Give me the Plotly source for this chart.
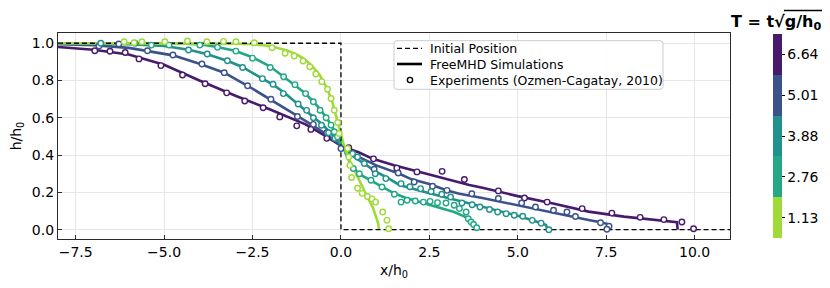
import plotly.graph_objects as go

# ---------------- data ----------------
T_labels = ["1.13", "2.76", "3.88", "5.01", "6.64"]
T_colors = ["#a0da39", "#22a884", "#21918c", "#3b528b", "#481a6c"]

init_x = [-8, 0, 0, 11]
init_y = [1, 1, 0, 0]

# simulations (FreeMHD)
sim_x_113 = [-8, -4, -3, -2.5, -2, -1.5, -1.2, -1.0, -0.8, -0.6, -0.4, -0.25, -0.1, 0, 0.1, 0.25, 0.5, 0.75, 0.9, 1.0, 1.05, 1.08]
sim_y_113 = [1.0, 1.0, 0.998, 0.995, 0.985, 0.96, 0.935, 0.91, 0.875, 0.83, 0.76, 0.69, 0.58, 0.5, 0.44, 0.37, 0.27, 0.175, 0.12, 0.07, 0.035, 0.0]

sim_x_276 = [-8, -5, -4, -3.5, -3, -2.5, -2, -1.5, -1, -0.6, -0.3, -0.1, 0.05, 0.2, 0.35, 0.5, 0.85, 1.16, 1.5, 1.84, 2.2, 2.78, 3.2, 3.5, 3.7, 3.8, 3.82]
sim_y_276 = [1.0, 1.0, 0.995, 0.98, 0.96, 0.925, 0.875, 0.805, 0.73, 0.65, 0.57, 0.5, 0.445, 0.38, 0.335, 0.30, 0.262, 0.228, 0.195, 0.17, 0.15, 0.122, 0.095, 0.07, 0.04, 0.02, 0.0]

sim_x_388 = [-8, -6, -5, -4.3, -3.8, -3.2, -2.8, -2.2, -1.9, -1.6, -1.2, -0.8, -0.5, -0.2, 0.05, 0.3, 0.66, 1.0, 1.3, 1.65, 2.5, 3.35, 4.0, 4.5, 5.0, 5.5, 5.8, 5.83]
sim_y_388 = [1.0, 0.995, 0.985, 0.965, 0.942, 0.905, 0.874, 0.81, 0.775, 0.735, 0.67, 0.605, 0.56, 0.50, 0.445, 0.40, 0.355, 0.31, 0.28, 0.24, 0.195, 0.155, 0.125, 0.10, 0.075, 0.045, 0.025, 0.0]

sim_x_501 = [-8, -7, -6, -5.5, -4.75, -4, -3.3, -2.64, -2, -1.2, -0.8, -0.4, 0.05, 0.5, 1.0, 1.65, 2.0, 2.5, 3.0, 3.35, 4.0, 5.0, 5.24, 6.0, 7.0, 7.3, 7.55, 7.6]
sim_y_501 = [0.995, 0.99, 0.975, 0.96, 0.935, 0.89, 0.842, 0.772, 0.70, 0.607, 0.56, 0.51, 0.445, 0.39, 0.345, 0.30, 0.27, 0.245, 0.21, 0.193, 0.17, 0.13, 0.122, 0.088, 0.052, 0.041, 0.03, 0.0]

sim_x_664 = [-8, -7, -6, -5, -4, -3, -2, -1, -0.5, 0.05, 0.5, 0.9, 1.5, 2.0, 2.5, 3.0, 3.63, 4.0, 5.0, 6.0, 7.0, 8.0, 9.0, 9.5, 9.52]
sim_y_664 = [0.98, 0.965, 0.94, 0.885, 0.80, 0.72, 0.645, 0.565, 0.51, 0.445, 0.415, 0.38, 0.345, 0.32, 0.295, 0.27, 0.24, 0.225, 0.18, 0.14, 0.097, 0.07, 0.05, 0.04, 0.0]

# experiments (Ozmen-Cagatay, 2010)
exp_x_113 = [-6.13, -5.85, -5.63, -4.98, -4.34, -3.79, -3.32, -2.97, -2.45, -1.95, -1.58, -1.32, -1.07, -0.88, -0.71, -0.54, -0.38, -0.28, -0.19, -0.09, -0.05, 0.19, 0.22, 0.25, 0.3, 0.47, 0.6, 0.75, 0.88, 0.98, 1.18, 1.3, 1.35]
exp_y_113 = [1.008, 1.003, 1.008, 1.008, 1.012, 1.008, 1.01, 1.008, 1.003, 0.976, 0.946, 0.932, 0.905, 0.874, 0.835, 0.794, 0.753, 0.704, 0.641, 0.575, 0.516, 0.435, 0.39, 0.345, 0.28, 0.222, 0.195, 0.178, 0.165, 0.148, 0.095, 0.05, 0.005]

exp_x_276 = [-5.36, -4.86, -3.99, -3.49, -2.97, -2.5, -2.0, -1.62, -1.3, -1.0, -0.78, -0.59, -0.42, -0.28, -0.19, -0.1, 0.35, 0.52, 0.85, 1.16, 1.51, 1.7, 1.87, 2.1, 2.33, 2.52, 2.73, 2.97, 3.2, 3.35, 3.54, 3.6, 3.68, 3.75, 3.84]
exp_y_276 = [0.99, 0.99, 0.99, 0.978, 0.958, 0.92, 0.87, 0.82, 0.778, 0.73, 0.686, 0.641, 0.60, 0.561, 0.525, 0.498, 0.328, 0.30, 0.265, 0.229, 0.19, 0.148, 0.158, 0.154, 0.148, 0.152, 0.145, 0.143, 0.131, 0.113, 0.095, 0.059, 0.041, 0.028, 0.01]

exp_x_388 = [-6.79, -5.82, -4.31, -3.78, -3.21, -2.78, -2.22, -1.92, -1.63, -1.21, -0.97, -0.78, -0.55, -0.35, -0.17, 0.33, 0.47, 0.66, 0.97, 1.27, 1.7, 1.95, 2.25, 2.55, 2.85, 3.1, 3.42, 3.71, 3.93, 4.2, 4.43, 4.67, 4.9, 5.14, 5.41, 5.66, 5.88]
exp_y_388 = [1.0, 1.0, 0.964, 0.942, 0.906, 0.87, 0.81, 0.78, 0.73, 0.674, 0.64, 0.60, 0.56, 0.52, 0.49, 0.408, 0.39, 0.355, 0.30, 0.274, 0.247, 0.23, 0.22, 0.205, 0.19, 0.175, 0.143, 0.134, 0.122, 0.108, 0.095, 0.086, 0.077, 0.072, 0.05, 0.035, 0.0]

exp_x_501 = [-6.84, -6.28, -5.47, -4.75, -3.93, -3.3, -2.64, -1.98, -1.23, -0.78, -0.4, 0.0, 0.94, 1.62, 2.07, 2.59, 3.0, 3.7, 4.45, 5.11, 5.5, 6.01, 6.39, 6.63, 7.34, 7.58, 7.52]
exp_y_501 = [0.985, 0.996, 0.96, 0.937, 0.889, 0.842, 0.772, 0.70, 0.607, 0.565, 0.52, 0.435, 0.324, 0.304, 0.256, 0.233, 0.211, 0.193, 0.167, 0.143, 0.122, 0.104, 0.095, 0.071, 0.037, 0.018, 0.002]

exp_x_664 = [-6.96, -6.53, -6.1, -5.71, -5.09, -4.48, -3.84, -3.23, -2.72, -2.2, -1.73, -1.25, -0.85, -0.4, 0.22, 0.92, 1.58, 2.15, 2.86, 3.49, 4.45, 5.19, 5.83, 6.82, 7.66, 8.46, 9.13, 9.64, 9.97]
exp_y_664 = [0.96, 0.957, 0.95, 0.916, 0.88, 0.83, 0.783, 0.734, 0.69, 0.654, 0.605, 0.557, 0.538, 0.49, 0.44, 0.38, 0.33, 0.31, 0.313, 0.269, 0.208, 0.17, 0.148, 0.113, 0.089, 0.066, 0.054, 0.041, 0.005]

x_ticks = [-7.5, -5.0, -2.5, 0.0, 2.5, 5.0, 7.5, 10.0]
y_ticks = [0.0, 0.2, 0.4, 0.6, 0.8, 1.0]

legend_labels = ["Initial Position", "FreeMHD Simulations", "Experiments (Ozmen-Cagatay, 2010)"]

sims = [(sim_x_664, sim_y_664), (sim_x_501, sim_y_501), (sim_x_388, sim_y_388),
        (sim_x_276, sim_y_276), (sim_x_113, sim_y_113)]
exps = [(exp_x_664, exp_y_664), (exp_x_501, exp_y_501), (exp_x_388, exp_y_388),
        (exp_x_276, exp_y_276), (exp_x_113, exp_y_113)]
order_colors = T_colors[::-1]

FONT = "DejaVu Sans"

# layout geometry (page pixels; the page body adds an 8 px offset)
OFF = 8
W, H = 830 - OFF, 288 - OFF
ML, MR, MT, MB = 58 - OFF, 100, 33 - OFF, 49
PW = W - ML - MR
PH = H - MT - MB


def px(xp):
    return (xp - (ML + OFF)) / PW


def py(yp):
    return ((MT + OFF + PH) - yp) / PH


fig = go.Figure()

for (sx, sy), c in zip(sims, order_colors):
    fig.add_trace(go.Scatter(x=sx, y=sy, mode="lines", line=dict(color=c, width=2.6),
                             showlegend=False, hoverinfo="skip"))

fig.add_trace(go.Scatter(x=init_x, y=init_y, mode="lines",
                         line=dict(color="black", width=1.3, dash="5px,3px"),
                         showlegend=False, hoverinfo="skip"))

for (ex, ey), c in zip(exps, order_colors):
    fig.add_trace(go.Scatter(x=ex, y=ey, mode="markers",
                             marker=dict(symbol="circle", size=5.5, color="white",
                                         line=dict(color=c, width=1.4)),
                             showlegend=False, hoverinfo="skip"))

# discrete colorbar
n = len(T_labels)
cscale = []
for i, c in enumerate(T_colors):
    cscale.append([i / n, c])
    cscale.append([(i + 1) / n, c])
fig.add_trace(go.Scatter(
    x=[None], y=[None], mode="markers", showlegend=False,
    marker=dict(color=[0], cmin=0, cmax=n, colorscale=cscale, showscale=True,
                colorbar=dict(
                    tickvals=[i + 0.5 for i in range(n)], ticktext=T_labels,
                    thickness=9, lenmode="pixels", len=204, y=0.5, yanchor="middle",
                    x=px(773), xanchor="left", xpad=0, ypad=0, outlinewidth=0,
                    ticks="outside", ticklen=3, tickcolor="black",
                    tickfont=dict(family=FONT, size=14, color="black")))))

# colorbar title
fig.add_annotation(
    x=px(822), y=py(22), xref="paper", yref="paper", xanchor="right", yanchor="middle",
    showarrow=False, borderpad=0,
    text="<b>T = t√g/h<sub>0</sub></b>",
    font=dict(family=FONT, size=16, color="black"))
fig.add_shape(type="line", xref="paper", yref="paper", layer="above",
              x0=px(784), x1=px(822), y0=py(10.5), y1=py(10.5),
              line=dict(color="black", width=1.3))

# manual legend (matplotlib-like compact box)
bx0, bx1, by0, by1 = 394, 663, 40.7, 89.3
r = 3
path = (f"M {px(bx0 + r)},{py(by0)} L {px(bx1 - r)},{py(by0)} "
        f"Q {px(bx1)},{py(by0)} {px(bx1)},{py(by0 + r)} L {px(bx1)},{py(by1 - r)} "
        f"Q {px(bx1)},{py(by1)} {px(bx1 - r)},{py(by1)} L {px(bx0 + r)},{py(by1)} "
        f"Q {px(bx0)},{py(by1)} {px(bx0)},{py(by1 - r)} L {px(bx0)},{py(by0 + r)} "
        f"Q {px(bx0)},{py(by0)} {px(bx0 + r)},{py(by0)} Z")
fig.add_shape(type="path", path=path, xref="paper", yref="paper", layer="above",
              fillcolor="rgba(255,255,255,0.85)", line=dict(color="#cccccc", width=1))
rows = [48.3, 64.0, 80.0]
fig.add_shape(type="line", xref="paper", yref="paper", layer="above",
              x0=px(397), x1=px(422), y0=py(rows[0]), y1=py(rows[0]),
              line=dict(color="black", width=1.3, dash="5px,3px"))
fig.add_shape(type="line", xref="paper", yref="paper", layer="above",
              x0=px(397), x1=px(422), y0=py(rows[1]), y1=py(rows[1]),
              line=dict(color="black", width=2.6))
rad = 2.6
fig.add_shape(type="circle", xref="paper", yref="paper", layer="above",
              x0=px(410 - rad), x1=px(410 + rad), y0=py(rows[2] - rad), y1=py(rows[2] + rad),
              fillcolor="white", line=dict(color="black", width=1.4))
for lab, yr in zip(legend_labels, rows):
    fig.add_annotation(x=px(427.5), y=py(yr), xref="paper", yref="paper",
                       xanchor="left", yanchor="middle", showarrow=False, text=lab,
                       font=dict(family=FONT, size=12.5, color="black"))

axis_common = dict(showgrid=True, gridcolor="#e6e6e6", gridwidth=1, zeroline=False,
                   showline=True, mirror=True, linecolor="#2b2b2b", linewidth=1.2,
                   ticks="inside", ticklen=4, tickcolor="#2b2b2b",
                   tickfont=dict(family=FONT, size=14, color="black"))

fig.update_xaxes(range=[-8, 11], tickvals=x_ticks, tickformat=".1f",
                 title=dict(text="x/h<sub>0</sub>", font=dict(family=FONT, size=14, color="black"), standoff=6),
                 **axis_common)
fig.update_yaxes(range=[-0.05, 1.055], tickvals=y_ticks, tickformat=".1f",
                 title=dict(text="h/h<sub>0</sub>", font=dict(family=FONT, size=14, color="black"), standoff=6),
                 **axis_common)

fig.update_layout(
    width=W, height=H,
    margin=dict(l=ML, r=MR, t=MT, b=MB, autoexpand=False),
    plot_bgcolor="white", paper_bgcolor="white",
    font=dict(family=FONT, size=14, color="black"),
    showlegend=False,
)

fig.write_html("out.html")
